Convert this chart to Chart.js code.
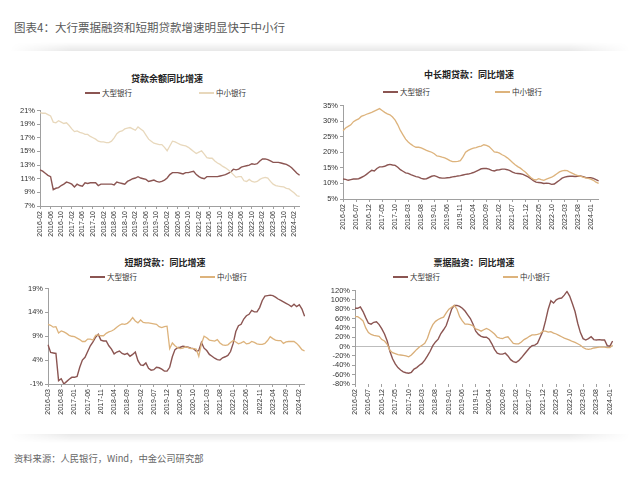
<!DOCTYPE html>
<html>
<head>
<meta charset="utf-8">
<script src="https://cdn.jsdelivr.net/npm/chart.js@4.4.1/dist/chart.umd.min.js"></script>
<style>
  body { margin: 0; background: #fff; }
  #page { position: relative; width: 640px; height: 481px; overflow: hidden; font-family: "Noto Sans CJK SC", sans-serif; }
  .head { position: absolute; left: 14px; top: 19px; font-size: 11.5px; color: #595959; }
  .src { position: absolute; left: 14px; top: 451px; font-size: 9.3px; color: #666; }
  .shade { position: absolute; left: 10px; width: 620px; height: 9px;
    -webkit-mask-image: linear-gradient(to right, transparent, #000 10%, #000 90%, transparent); }
  .ptitle { position: absolute; font-size: 9px; font-weight: bold; color: #222; transform: translateX(-50%); white-space: nowrap; }
  .leg { position: absolute; font-size: 7.5px; color: #333; white-space: nowrap; line-height: 10px; }
  .leg i { display: inline-block; width: 15px; height: 2px; vertical-align: middle; margin-right: 2px; position: relative; top: -1px; }
  canvas { position: absolute; }
</style>
</head>
<body>
<div id="page">
  <div class="head">图表4：大行票据融资和短期贷款增速明显快于中小行</div>
  <div class="shade" style="top:42px;background:linear-gradient(to bottom, rgba(0,0,0,0), rgba(0,0,0,0.09));"></div>
  <div class="shade" style="top:434px;background:linear-gradient(to top, rgba(0,0,0,0), rgba(0,0,0,0.09));"></div>

  <div class="ptitle" style="left:167px;top:72px;">贷款余额同比增速</div>
  <div class="leg" style="left:85px;top:88px;"><i style="background:#8B5552"></i>大型银行</div>
  <div class="leg" style="left:199px;top:88px;"><i style="background:#E8D8BC"></i>中小银行</div>

  <div class="ptitle" style="left:469px;top:68px;">中长期贷款：同比增速</div>
  <div class="leg" style="left:383px;top:87px;"><i style="background:#8B5552"></i>大型银行</div>
  <div class="leg" style="left:495px;top:87px;"><i style="background:#DDB37C"></i>中小银行</div>

  <div class="ptitle" style="left:165px;top:256px;">短期贷款：同比增速</div>
  <div class="leg" style="left:90px;top:272px;"><i style="background:#8B5552"></i>大型银行</div>
  <div class="leg" style="left:200px;top:272px;"><i style="background:#DDB37C"></i>中小银行</div>

  <div class="ptitle" style="left:474px;top:256px;">票据融资：同比增速</div>
  <div class="leg" style="left:393px;top:272px;"><i style="background:#8B5552"></i>大型银行</div>
  <div class="leg" style="left:503px;top:272px;"><i style="background:#DDB37C"></i>中小银行</div>

  <canvas id="c1" style="left:0px;top:104px;width:310px;height:142px;"></canvas>
  <canvas id="c2" style="left:320px;top:99px;width:289px;height:140px;"></canvas>
  <canvas id="c3" style="left:0px;top:282px;width:315px;height:142px;"></canvas>
  <canvas id="c4" style="left:320px;top:284px;width:303px;height:140px;"></canvas>

  <div class="src">资料来源：人民银行，Wind，中金公司研究部</div>
</div>

<script>
// month categories
function months(year, month, n) {
    const out = [];
    for (let k = 0; k < n; k++) {
        const m = (month - 1 + k) % 12 + 1;
        const y = year + Math.floor((month - 1 + k) / 12);
        out.push(y + '-' + String(m).padStart(2, '0'));
    }
    return out;
}

// Panel 1: loan balance yoy (%)
const months1 = months(2016, 2, 99);
const large1 = [12.3,12.1,11.8,11.5,11.3,9.4,9.6,9.7,10.0,10.2,
    10.5,10.4,10.2,9.8,10.2,10.0,9.9,10.4,10.3,10.4,
    10.4,10.4,10.0,10.2,10.2,10.2,10.2,10.2,10.1,10.5,
    10.4,10.3,10.2,10.6,10.8,11.0,11.1,11.3,11.1,11.0,
    10.9,10.6,10.7,10.8,10.6,10.5,10.6,10.8,11.1,11.6,
    11.9,11.9,11.9,11.8,11.7,11.9,11.9,12.0,12.1,11.6,
    11.3,11.1,11.0,11.3,11.3,11.3,11.3,11.3,11.4,11.5,
    11.6,11.8,12.0,12.4,12.3,12.4,12.7,12.8,12.9,13.0,
    13.2,13.1,13.2,13.6,13.9,13.9,13.8,13.6,13.4,13.4,
    13.4,13.3,13.2,13.1,12.9,12.6,12.2,11.8,11.5];
const small1 = [20.7,20.6,20.6,20.4,20.2,19.3,19.2,19.5,19.3,19.1,
    19.2,18.8,18.3,17.9,18.0,17.8,17.7,17.5,17.5,17.2,
    17.0,16.8,16.5,16.4,16.4,16.3,16.3,16.5,17.0,17.6,
    17.9,18.0,18.3,18.4,18.5,18.3,18.1,18.6,18.3,18.0,
    17.4,16.8,16.5,16.2,16.1,16.0,16.0,15.6,15.1,15.8,
    16.5,16.4,16.2,16.0,15.9,15.8,15.6,15.3,15.0,14.7,
    14.9,15.1,14.6,14.1,14.0,14.0,13.6,13.3,13.1,12.8,
    12.6,12.3,12.0,11.6,11.2,11.3,11.3,10.7,10.6,10.9,
    10.6,10.5,10.6,10.9,11.1,11.2,11.1,10.6,10.2,10.0,
    9.9,9.85,9.8,9.6,9.5,9.2,8.9,8.5,8.4];

// Panel 2: medium & long term loans yoy (%)
const months2 = months(2016, 2, 99);
const large2 = [11.4,11.3,11.0,11.2,11.4,11.4,11.5,11.9,12.3,12.9,
    13.6,14.2,14.0,14.8,15.3,15.3,15.5,15.9,16.1,15.9,
    15.8,15.2,14.4,13.9,13.4,13.2,12.8,12.5,12.2,12.0,
    11.6,11.4,11.5,11.9,12.3,12.5,12.2,11.8,11.7,11.7,
    11.8,11.9,12.1,12.2,12.4,12.5,12.7,12.9,13.0,13.2,
    13.5,13.9,14.3,14.7,14.8,14.8,14.6,14.2,14.0,14.3,
    14.4,14.6,14.6,14.4,14.1,13.6,13.3,13.2,13.1,12.9,
    12.5,12.1,11.5,10.9,10.4,10.3,10.2,10.0,10.1,10.0,
    9.7,9.8,10.4,11.0,11.7,12.0,12.2,12.3,12.3,12.2,
    12.3,12.4,12.2,11.9,11.8,11.8,11.6,11.2,10.8];
const small2 = [26.9,27.8,28.3,28.8,29.8,30.3,30.7,31.5,31.8,32.2,
    32.5,32.8,33.2,33.6,34.0,33.4,32.8,32.3,32.0,31.3,
    30.3,28.8,27.0,25.6,24.2,23.3,22.6,22.0,21.6,21.6,
    21.4,21.0,20.6,20.3,20.0,19.5,18.8,18.7,18.4,18.2,
    17.8,17.3,17.0,17.0,17.1,17.3,18.5,20.0,20.6,21.0,
    21.3,21.5,21.8,22.0,22.4,22.2,21.8,21.0,20.1,20.0,
    19.7,19.2,18.8,18.2,17.5,16.7,16.0,15.4,14.9,14.2,
    13.6,12.7,11.9,11.3,11.1,11.5,11.2,11.0,11.4,11.7,
    12.0,12.5,13.1,13.7,14.0,14.2,14.1,13.6,13.2,12.8,
    12.5,12.3,12.0,11.8,11.6,11.4,11.0,10.4,10.0];

// Panel 3: short term loans yoy (%)
const months3 = months(2016, 3, 98);
const large3 = [7.2,5.6,5.5,5.4,-0.3,0.1,-1.0,-0.5,0.0,0.4,
    0.4,0.6,2.5,4.0,4.6,5.8,7.0,7.8,8.8,9.4,
    8.2,8.0,8.0,7.0,6.3,5.3,5.7,5.9,5.4,5.2,
    5.4,4.8,5.2,5.7,3.9,3.0,2.9,3.4,2.3,1.9,
    2.0,2.5,2.4,2.1,1.7,1.7,2.5,4.7,6.2,6.6,
    6.7,6.9,6.8,6.7,6.5,6.4,5.9,6.0,7.7,6.5,
    6.0,5.2,4.8,4.4,4.1,4.0,4.5,4.7,5.0,5.8,
    7.5,10.0,11.2,11.5,12.6,13.3,13.6,14.4,14.1,14.1,
    15.0,16.5,17.4,17.5,17.6,17.5,17.2,16.8,16.5,16.2,
    15.9,15.6,15.2,15.7,15.2,15.6,14.7,13.2];
const small3 = [11.5,11.3,10.9,11.0,9.7,10.1,9.9,9.6,9.2,9.0,
    8.9,8.6,8.3,7.9,7.9,8.4,8.4,8.2,9.2,9.3,
    9.1,9.1,9.6,9.9,10.1,10.4,10.9,11.3,11.6,11.5,
    11.7,12.2,12.9,12.2,11.8,12.4,11.9,11.8,11.8,11.7,
    11.6,11.5,11.0,10.8,11.0,11.1,6.4,7.6,7.0,6.6,
    6.4,6.5,6.8,6.6,6.4,6.4,6.3,4.8,7.4,9.0,
    8.7,8.2,8.1,8.0,8.3,7.6,7.2,7.1,7.2,7.7,
    8.1,7.8,7.4,7.6,7.9,7.4,7.5,7.9,7.7,7.4,
    7.3,7.3,7.5,8.1,8.9,8.5,8.2,8.1,8.1,7.5,
    7.8,7.9,7.9,7.9,7.5,6.9,6.2,5.9];

// Panel 4: bill financing yoy (%)
const months4 = months(2016, 2, 97);
const large4 = [82,82,85,75,62,50,48,52,53,47,
    38,27,12,-10,-26,-37,-45,-50,-54,-56,
    -57,-55,-48,-45,-40,-36,-29,-20,-10,2,
    10,16,28,36,45,62,80,88,88,86,
    82,76,68,60,48,33,26,22,20,20,
    16,6,-6,-14,-16,-16,-14,-20,-28,-32,
    -34,-30,-24,-17,-10,-3,2,3,7,20,
    33,55,80,98,93,100,103,104,110,118,
    108,92,75,50,30,17,14,17,21,15,
    14,15,14,14,2,1,12];
const small4 = [64,64,60,55,40,30,26,24,23,22,
    15,12,5,-8,-13,-15,-17,-18,-19,-20,
    -22,-18,-12,-6,-1,3,7,18,35,47,
    54,58,61,63,72,80,84,88,80,64,
    55,48,48,47,44,38,36,33,36,39,
    36,32,27,20,18,17,20,21,14,7,
    6,6,10,15,18,22,25,25,26,28,
    33,33,31,32,29,27,24,21,18,16,
    14,11,9,6,3,-2,-5,-6,-5,-3,
    -2,-1,-1,-1,-2,-2,3];

const BROWN = '#8B5552';
const axisColor = '#a0a0a0';

Chart.defaults.font.family = '"Liberation Sans", Arial, sans-serif';
Chart.defaults.color = '#333';

function makeChart(id, labels, large, small, smallColor, opt) {
    const ctx = document.getElementById(id);
    return new Chart(ctx, {
        type: 'line',
        data: {
            labels: labels,
            datasets: [
                { label: '中小银行', data: small, borderColor: smallColor, borderWidth: 1.3, pointRadius: 0, tension: 0 },
                { label: '大型银行', data: large, borderColor: BROWN, borderWidth: 1.4, pointRadius: 0, tension: 0 }
            ]
        },
        options: {
            responsive: false,
            animation: false,
            layout: { padding: { top: 0, right: opt.padRight, left: 0, bottom: 0 } },
            plugins: { legend: { display: false }, tooltip: { enabled: false } },
            scales: {
                x: {
                    border: { display: opt.xBorder, color: axisColor },
                    grid: {
                        drawOnChartArea: false,
                        tickLength: 3,
                        color: c => (c.index % opt.every === 0 ? axisColor : 'rgba(0,0,0,0)')
                    },
                    ticks: {
                        autoSkip: false,
                        maxRotation: 90,
                        minRotation: 90,
                        padding: 2,
                        font: { size: 7 },
                        callback: function(value, index) {
                            return index % opt.every === 0 ? this.getLabelForValue(value) : '';
                        }
                    },
                    afterFit: s => { s.height = 40; }
                },
                y: {
                    min: opt.min,
                    max: opt.max,
                    border: { color: axisColor },
                    grid: {
                        drawOnChartArea: opt.zeroLine,
                        tickLength: 3,
                        color: c => (opt.zeroLine && c.tick && c.tick.value === 0 ? '#bdbdbd' : 'rgba(0,0,0,0)'),
                        tickColor: axisColor
                    },
                    ticks: {
                        stepSize: opt.step,
                        autoSkip: false,
                        padding: 2,
                        font: { size: 7.5 },
                        callback: v => v + '%'
                    },
                    afterFit: s => { s.width = opt.yWidth; }
                }
            }
        }
    });
}

makeChart('c1', months1, large1, small1, '#E8D8BC', { min: 7, max: 21, step: 2, every: 4, yWidth: 40, padRight: 10, xBorder: true, zeroLine: false });
makeChart('c2', months2, large2, small2, '#DDB37C', { min: 5, max: 35, step: 5, every: 5, yWidth: 23, padRight: 10, xBorder: true, zeroLine: false });
makeChart('c3', months3, large3, small3, '#DDB37C', { min: -1, max: 19, step: 5, every: 5, yWidth: 48, padRight: 10, xBorder: true, zeroLine: false });
makeChart('c4', months4, large4, small4, '#D9AE78', { min: -80, max: 120, step: 20, every: 5, yWidth: 35, padRight: 10, xBorder: false, zeroLine: true });
</script>
</body>
</html>
